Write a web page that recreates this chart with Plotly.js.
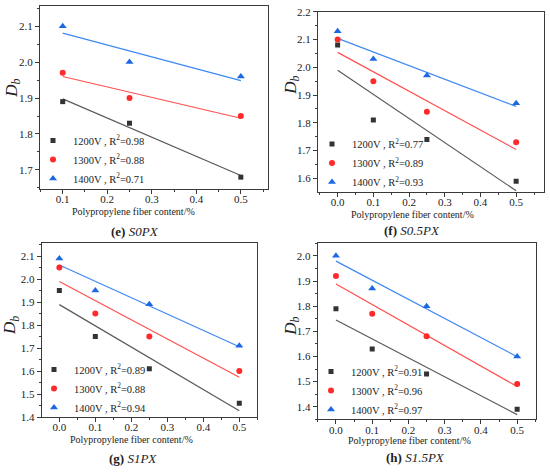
<!DOCTYPE html>
<html><head><meta charset="utf-8">
<script src="https://cdn.plot.ly/plotly-3.0.1.min.js"></script>
<style>html,body{margin:0;padding:0;background:#fff}#chart{width:550px;height:472px}</style>
</head><body><div id="chart"></div>
<script>
// ---- data ----
const voltages = ['1200V', '1300V', '1400V'];
const xE = [0.1, 0.25, 0.5];
const xF = [0, 0.1, 0.25, 0.5];
const xG = [0, 0.1, 0.25, 0.5];
const xH = [0, 0.1, 0.25, 0.5];
const yE1200 = [1.89, 1.83, 1.68];
const yE1300 = [1.97, 1.90, 1.85];
const yE1400 = [2.10, 2.00, 1.96];
const yF1200 = [2.08, 1.81, 1.74, 1.59];
const yF1300 = [2.10, 1.95, 1.84, 1.73];
const yF1400 = [2.13, 2.03, 1.97, 1.87];
const yG1200 = [1.95, 1.75, 1.61, 1.46];
const yG1300 = [2.05, 1.85, 1.75, 1.60];
const yG1400 = [2.09, 1.95, 1.89, 1.71];
const yH1200 = [1.79, 1.63, 1.53, 1.39];
const yH1300 = [1.92, 1.77, 1.68, 1.49];
const yH1400 = [2.00, 1.87, 1.80, 1.60];
const r2E = ['0.98', '0.88', '0.71'];
const r2F = ['0.77', '0.89', '0.93'];
const r2G = ['0.89', '0.88', '0.94'];
const r2H = ['0.91', '0.96', '0.97'];
const panelLetters = ['(e)', '(f)', '(g)', '(h)'];
const panelNames = ['S0PX', 'S0.5PX', 'S1PX', 'S1.5PX'];
const xTitle = 'Polypropylene fiber content/%';

// ---- style ----
const FONT = '"Liberation Serif", "Times New Roman", serif';
const markerColors = ['#333333', '#ff2b2b', '#1c68e3'];
const lineColors = ['#5a5a5a', '#ff5050', '#3f88f2'];
const symbols = ['square', 'circle', 'triangle-up'];
const sizes = [5, 6, 7];
const W = 550, H = 472;
const px = v => v / W;
const py = v => 1 - v / H;

function fit(x, y) {
  const n = x.length;
  const mx = x.reduce((a, b) => a + b, 0) / n;
  const my = y.reduce((a, b) => a + b, 0) / n;
  let sxy = 0, sxx = 0;
  for (let i = 0; i < n; i++) { sxy += (x[i] - mx) * (y[i] - my); sxx += (x[i] - mx) ** 2; }
  const b = sxy / sxx, a = my - b * mx;
  const xs = [Math.min(...x), Math.max(...x)];
  return { x: xs, y: xs.map(v => a + b * v) };
}

const panels = [
  { x: xE, ys: [yE1200, yE1300, yE1400], r2: r2E, xa: 'x', ya: 'y', lg: 'legend' },
  { x: xF, ys: [yF1200, yF1300, yF1400], r2: r2F, xa: 'x2', ya: 'y2', lg: 'legend2' },
  { x: xG, ys: [yG1200, yG1300, yG1400], r2: r2G, xa: 'x3', ya: 'y3', lg: 'legend3' },
  { x: xH, ys: [yH1200, yH1300, yH1400], r2: r2H, xa: 'x4', ya: 'y4', lg: 'legend4' }
];

const traces = [];
panels.forEach(p => {
  p.ys.forEach((y, k) => {
    const f = fit(p.x, y);
    traces.push({ x: f.x, y: f.y, xaxis: p.xa, yaxis: p.ya, mode: 'lines', showlegend: false,
      line: { color: lineColors[k], width: 1.2 }, hoverinfo: 'skip' });
  });
  p.ys.forEach((y, k) => {
    traces.push({ x: p.x, y: y, xaxis: p.xa, yaxis: p.ya, mode: 'markers', legend: p.lg,
      name: voltages[k] + ' , R<sup>2</sup>=' + p.r2[k],
      marker: { symbol: symbols[k], size: sizes[k], color: markerColors[k] } });
  });
});

function axis(domain, range, dtick, anchor, isX) {
  const a = {
    domain: domain, range: range, dtick: dtick, tick0: 0, anchor: anchor,
    showgrid: false, zeroline: false, showline: true, mirror: true,
    linecolor: '#3a3a3a', linewidth: 1, ticks: 'outside', ticklen: 4, tickwidth: 1,
    tickcolor: '#3a3a3a', tickformat: '.1f',
    tickfont: { family: FONT, size: 11, color: '#222' },
    minor: { dtick: dtick / 2, ticks: 'outside', ticklen: 2, tickcolor: '#3a3a3a', showgrid: false }
  };
  if (isX) a.ticklabelstandoff = -4;
  return a;
}

// pixel boxes [left, right, top, bottom]
const boxes = [[40, 268, 6, 189], [318, 544, 11.7, 191.7], [41.7, 257.3, 243, 417], [317.7, 536, 243.3, 419.3]];
const xr = [[0.049, 0.561], [-0.055, 0.578], [-0.049, 0.550], [-0.0504, 0.552]];
const yr = [[1.647, 2.156], [1.552, 2.2], [1.4, 2.157], [1.35, 2.05]];

const layout = {
  width: W, height: H, margin: { l: 0, r: 0, t: 0, b: 0 },
  paper_bgcolor: '#fff', plot_bgcolor: '#fff', font: { family: FONT, color: '#222' },
  annotations: []
};
const names = [['xaxis', 'yaxis', 'x', 'y'], ['xaxis2', 'yaxis2', 'x2', 'y2'], ['xaxis3', 'yaxis3', 'x3', 'y3'], ['xaxis4', 'yaxis4', 'x4', 'y4']];
boxes.forEach((b, i) => {
  const n = names[i];
  layout[n[0]] = axis([px(b[0]), px(b[1])], xr[i], 0.1, n[3], true);
  layout[n[1]] = axis([py(b[3]), py(b[2])], yr[i], 0.1, n[2], false);
});

// legends: [left px, top px]
const legPos = [[33, 126], [312, 129.5], [34, 355], [311, 357]];
['legend', 'legend2', 'legend3', 'legend4'].forEach((lg, i) => {
  layout[lg] = { x: px(legPos[i][0]), y: py(legPos[i][1]), xanchor: 'left', yanchor: 'top',
    bgcolor: 'rgba(0,0,0,0)', font: { family: FONT, size: 10.5, color: '#222' }, itemwidth: 30 };
});

// text positions: x-title [cx, cy], subtitle [cx, cy], y-title [cx, cy]
const xt = [[133.5, 211], [412.7, 214.5], [131, 439], [409, 440.5]];
const st = [[135, 231.7], [412, 230], [133, 458.7], [415, 457.7]];
const yt = [[12.7, 88], [291.7, 85], [11, 326], [291.7, 326]];
for (let i = 0; i < 4; i++) {
  layout.annotations.push({ xref: 'paper', yref: 'paper', x: px(xt[i][0]), y: py(xt[i][1]), showarrow: false,
    text: xTitle, font: { family: FONT, size: 10, color: '#222' }, xanchor: 'center', yanchor: 'middle' });
  layout.annotations.push({ xref: 'paper', yref: 'paper', x: px(st[i][0]), y: py(st[i][1]), showarrow: false,
    text: '<b>' + panelLetters[i] + '</b> <i>' + panelNames[i] + '</i>', font: { family: FONT, size: 13, color: '#222' },
    xanchor: 'center', yanchor: 'middle' });
  layout.annotations.push({ xref: 'paper', yref: 'paper', x: px(yt[i][0]), y: py(yt[i][1]), showarrow: false,
    text: '<i>D</i><sub><i>b</i></sub>', textangle: -90, font: { family: FONT, size: 17, color: '#222' },
    xanchor: 'center', yanchor: 'middle' });
}

Plotly.newPlot('chart', traces, layout, { displayModeBar: false, staticPlot: true });
</script>
</body></html>
